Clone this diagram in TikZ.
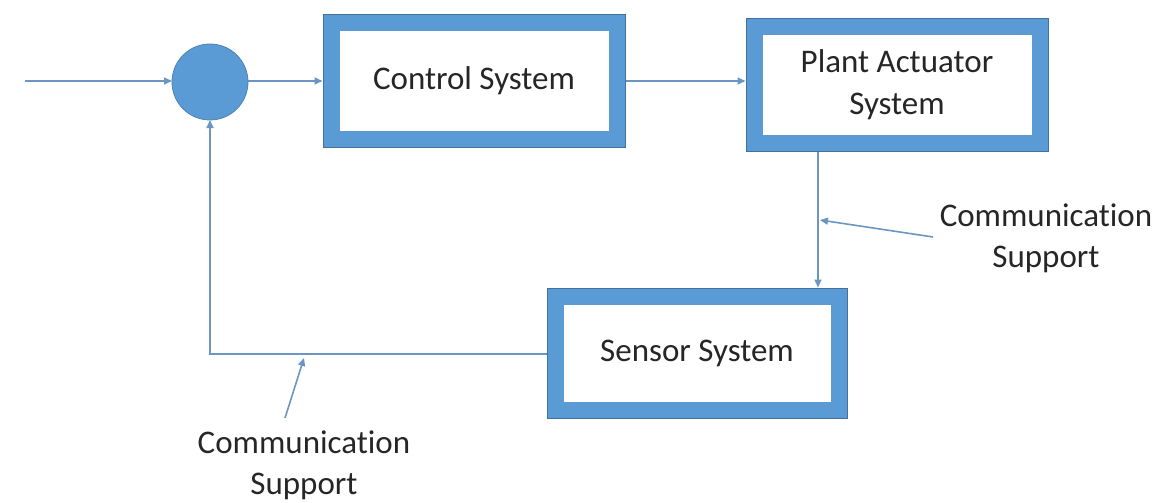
\documentclass[tikz,border=0pt]{standalone}
\usepackage{fontspec}
\setmainfont{Carlito}[Ligatures=NoCommon]
\usetikzlibrary{arrows.meta}
\definecolor{boxblue}{HTML}{5B9BD5}
\definecolor{boxedge}{HTML}{41719C}
\definecolor{wire}{HTML}{6A96C4}
\definecolor{ink}{HTML}{262626}
\tikzset{
  block/.style={draw=boxblue, line width=16pt, fill=white,
    preaction={draw=boxedge, line width=18pt},
    inner sep=0pt, outer sep=9pt, align=center, text=ink,
    font=\fontsize{33}{42}\selectfont},
  sumjunction/.style={circle, fill=boxblue, draw=boxblue!85!black, line width=0.8pt,
    minimum size=76pt, inner sep=0pt, outer sep=0pt},
  wireline/.style={draw=wire, line width=1.6pt,
    -{Triangle[length=8pt,width=7pt]}},
  note/.style={align=center, text=ink, inner sep=0pt,
    font=\fontsize{33}{41}\selectfont}
}
\begin{document}
\begin{tikzpicture}[x=1pt,y=-1pt]
  \useasboundingbox (0,0) rectangle (1154,503);

  % blocks
  \node[sumjunction] (sum) at (210,82) {};
  \node[block, minimum width=285pt, minimum height=115pt] (ctrl) at (474,81) {Control System};
  \node[block, minimum width=285pt, minimum height=115pt] (plant) at (897,85) {Plant Actuator\\System};
  \node[block, minimum width=283pt, minimum height=113pt] (sensor) at (697,353) {Sensor System};

  % free ends and bends
  \coordinate (in) at (25,81);
  \coordinate (drop) at (818,0);
  \coordinate (corner) at (210,354);

  % forward path
  \draw[wireline] (in) -- (sum.west |- in);
  \draw[wireline] (sum.east |- in) -- (ctrl.west |- in);
  \draw[wireline] (ctrl.east |- in) -- (plant.west |- in);
  \draw[wireline] (plant.south -| drop) -- (sensor.north -| drop);

  % feedback path
  \draw[wireline] (sensor.west |- corner) -- (corner) -- (sum.south);

  % annotations
  \node[note] (noteR) at (1046,238) {Communication\\Support};
  \node[note] (noteB) at (304,465) {Communication\\Support};
  \coordinate (tipR) at (820,220);
  \coordinate (tipB) at (304,358);
  \coordinate (tailR) at (933,237);
  \coordinate (tailB) at (285,418);
  \draw[wireline] (tailR) -- (tipR);
  \draw[wireline] (tailB) -- (tipB);
\end{tikzpicture}
\end{document}
